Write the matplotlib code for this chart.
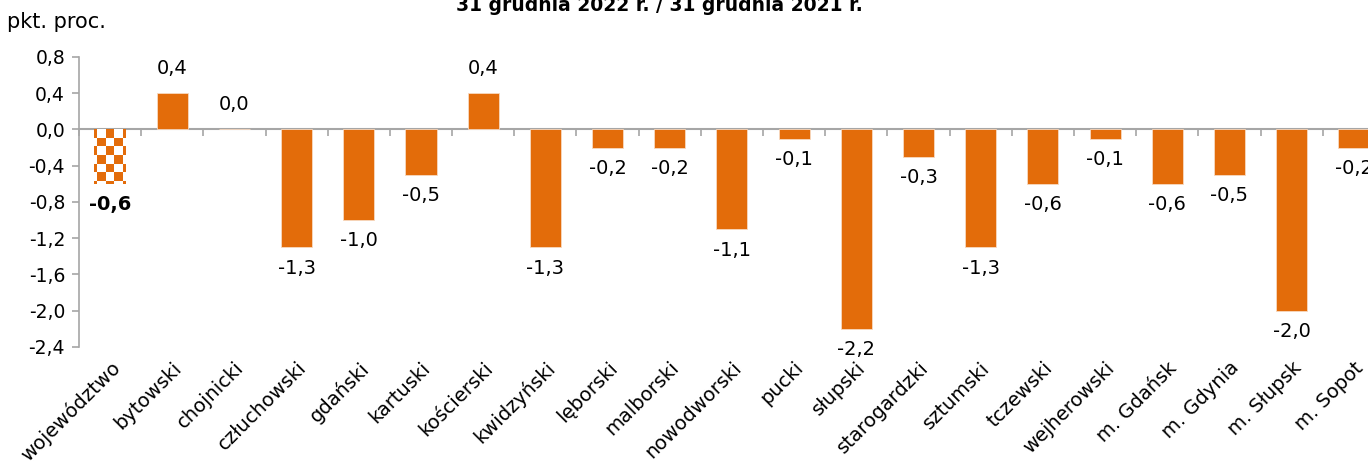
import matplotlib
matplotlib.use("Agg")
import matplotlib.pyplot as plt
from matplotlib.colors import ListedColormap
import numpy as np

plt.rcParams["font.family"] = ["DejaVu Sans"]

powiaty = ["województwo", "bytowski", "chojnicki", "człuchowski", "gdański", "kartuski",
           "kościerski", "kwidzyński", "lęborski", "malborski", "nowodworski", "pucki",
           "słupski", "starogardzki", "sztumski", "tczewski", "wejherowski", "m. Gdańsk",
           "m. Gdynia", "m. Słupsk", "m. Sopot"]
zmiana = [-0.6, 0.4, 0.0, -1.3, -1.0, -0.5, 0.4, -1.3, -0.2, -0.2, -1.1, -0.1,
          -2.2, -0.3, -1.3, -0.6, -0.1, -0.6, -0.5, -2.0, -0.2]
yticks = [0.8, 0.4, 0.0, -0.4, -0.8, -1.2, -1.6, -2.0, -2.4]

kolor = "#E36C0A"
szary = "#A6A6A6"

fig = plt.figure(figsize=(13.68, 4.73), dpi=100)
ax = fig.add_axes([0.0577, 0.2664, 0.9547, 0.6131])

x = np.arange(len(powiaty))
bars = ax.bar(x, zmiana, width=0.5, color=kolor, edgecolor="#F8D9C0", linewidth=0.6, zorder=2)

# województwo - szachownica
b0 = bars[0]
b0.set_facecolor("white")
b0.set_edgecolor("none")
W, H = b0.get_width(), abs(b0.get_height())
cw = W / 3.8
ch = H / 6.35
szach = np.indices((7, 5)).sum(axis=0) % 2
im = ax.imshow(szach, cmap=ListedColormap([kolor, "white"]), aspect="auto",
               extent=(b0.get_x() - 0.6 * cw, b0.get_x() - 0.6 * cw + 5 * cw, -7 * ch, 0),
               interpolation="nearest", zorder=3)
im.set_clip_path(b0)

ax.set_xlim(-0.5, len(powiaty) - 0.5)
ax.set_ylim(-2.4, 0.8)

# etykiety danych
for i, v in enumerate(zmiana):
    txt = f"{v:.1f}".replace(".", ",")
    off = 18 if v >= 0 else -15
    ax.annotate(txt, (i, v), xytext=(0, off), textcoords="offset points",
                ha="center", va="center", fontsize=14,
                fontweight="bold" if i == 0 else "normal", color="black")

ax.set_yticks(yticks)
ax.set_yticklabels([f"{t:.1f}".replace(".", ",") for t in yticks], fontsize=13.5)
ax.tick_params(axis="y", direction="out", length=5, color=szary, width=1.2, pad=5)

ax.set_xticks(x)
ax.set_xticklabels(powiaty, rotation=45, ha="right", rotation_mode="anchor", fontsize=14)
ax.tick_params(axis="x", length=0, pad=8)

for s in ["top", "right", "bottom"]:
    ax.spines[s].set_visible(False)
ax.spines["left"].set_color(szary)
ax.spines["left"].set_linewidth(1.2)

# oś w punkcie zero
sec = ax.secondary_xaxis(0, transform=ax.transData)
sec.set_xticks(np.arange(len(powiaty) + 1) - 0.5)
sec.set_xticklabels([])
sec.tick_params(direction="out", length=5, color=szary, width=1.2)
for s in sec.spines.values():
    s.set_color(szary)
    s.set_linewidth(1.5)

fig.text(0.005, 1 - 28 / 473, "pkt. proc.", fontsize=15, va="baseline")
fig.text(0.482, 1 - 11 / 473, "31 grudnia 2022 r. / 31 grudnia 2021 r.", fontsize=13.5,
         fontweight="bold", ha="center", va="baseline")

fig.savefig("out.png", dpi=100)
